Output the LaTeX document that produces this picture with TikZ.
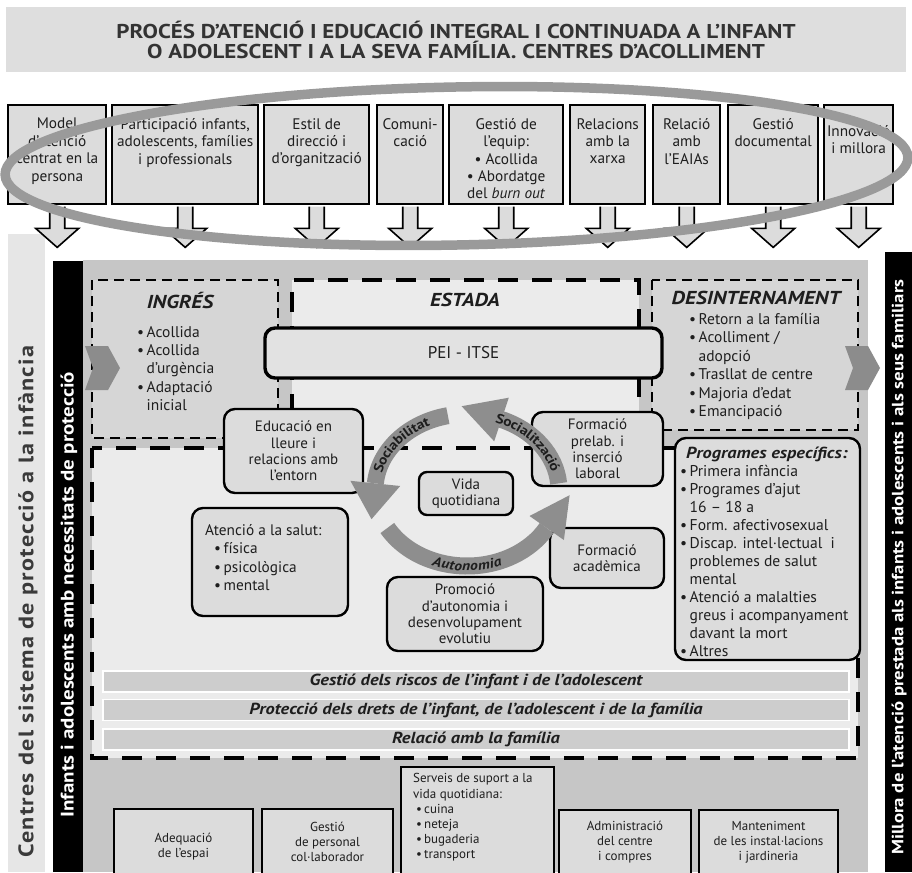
\documentclass[tikz,border=0pt]{standalone}
\usepackage{fontspec}
\setmainfont{PT Sans}
\newfontfamily\widefont{PT Sans}[FakeStretch=1.15]
\newfontfamily\spacedfont{PT Sans}[FakeStretch=1.15, LetterSpace=6]
\usetikzlibrary{decorations.text}

\definecolor{titlefill}{HTML}{DEDEDE}
\definecolor{boxfill}{HTML}{DCDCDC}
\definecolor{panelfill}{HTML}{C6C6C6}
\definecolor{stripfill}{HTML}{E6E6E6}
\definecolor{phasefill}{HTML}{D6D6D6}
\definecolor{stayfill}{HTML}{EBEBEB}
\definecolor{peifill}{HTML}{E2E2E2}
\definecolor{ringgray}{HTML}{9A9A9A}
\definecolor{cyclegray}{HTML}{8E8E8E}
\definecolor{chevrongray}{HTML}{8C8C8C}
\definecolor{ink}{HTML}{1E1E1E}
\definecolor{titleink}{HTML}{333333}
\definecolor{sideink}{HTML}{3A3A3A}
\definecolor{barfill}{HTML}{CDCDCD}

\newcommand\fs[2]{\fontsize{#1}{#2}\selectfont}
\newcommand\bitem{\makebox[9.5pt][l]{•}}
\newcommand\bcont{\hspace*{9.5pt}}

\tikzset{
  topbox/.style={draw=black, line width=2.4pt, fill=boxfill, inner sep=0pt, anchor=north west},
  toptext/.style={font=\fs{15.3}{17.4}, align=center, inner sep=0pt, text=ink, anchor=north},
  arrowline/.style={draw=black, line width=1.6pt, line join=miter},
  pics/downarrow/.style={code={
    \fill[boxfill] (-7.5,1.2) -- (-7.5,23) -- (-21.5,23) -- (0,42) -- (21.5,23) -- (7.5,23) -- (7.5,1.2) -- cycle;
    \draw[arrowline] (-7.5,1.2) -- (-7.5,23) -- (-21.5,23) -- (0,42) -- (21.5,23) -- (7.5,23) -- (7.5,1.2);
  }},
  phasebox/.style={draw=black, line width=2.6pt, dash pattern=on 10pt off 6pt, fill=phasefill},
  staydash/.style={draw=black, line width=4.5pt, dash pattern=on 20pt off 14pt},
  phasetitle/.style={font=\widefont\fs{18.7}{20}\bfseries\itshape, text=ink, inner sep=0pt},
  phaselist/.style={font=\fs{15.5}{18.4}, align=left, text=ink, inner sep=0pt, anchor=west},
  roundbox/.style={draw=black, line width=2.4pt, rounded corners=11pt, fill=boxfill, inner sep=0pt},
  boxtext/.style={font=\fs{15}{16.4}, align=center, text=ink, inner sep=0pt},
  bar/.style={draw=white, line width=1.6pt, fill=barfill, minimum width=746pt, minimum height=21pt, inner sep=0pt, font=\widefont\fs{16}{18}\bfseries\itshape, text=ink},
  servicebox/.style={draw=black, line width=1.4pt, fill=boxfill},
  servicetext/.style={font=\fs{13}{15.2}, align=center, text=ink, inner sep=0pt},
  sidetext/.style={rotate=90, inner sep=0pt, anchor=west},
  chevron/.style={fill=chevrongray},
  cycleband/.style={draw=cyclegray, line width=17pt},
  cyclehead/.style={fill=cyclegray},
}

\begin{document}
\begin{tikzpicture}[x=1pt, y=-1pt]
\useasboundingbox (0,0) rectangle (912,872);
\fill[white] (0,0) rectangle (912,872);

% ---------- title band ----------
\fill[titlefill] (6,7) rectangle (906,72);
\node[font=\widefont\fs{20}{20.5}\bfseries, text=titleink, align=center, inner sep=0pt] (title) at (456,40)
  {PROCÉS D’ATENCIÓ I EDUCACIÓ INTEGRAL I CONTINUADA A L’INFANT\\O ADOLESCENT I A LA SEVA FAMÍLIA. CENTRES D’ACOLLIMENT};

% ---------- side strips and main panel ----------
\fill[stripfill] (8,234) rectangle (45,872);
\node[sidetext, font=\spacedfont\fs{21}{23}\bfseries, text=sideink] (system) at (28,858) {Centres del sistema de protecció a la infància};
\fill[black] (53,261) rectangle (83,872);
\node[sidetext, font=\widefont\fs{18.2}{20}\bfseries, text=white] (children) at (69,818) {Infants i adolescents amb necessitats de protecció};
\fill[panelfill] (83,260) rectangle (868,872);
\fill[black] (885,252) rectangle (912,872);
\node[sidetext, font=\widefont\fs{16.3}{18}\bfseries, text=white] (improve) at (899,855) {Millora de l’atenció prestada als infants i adolescents i als seus familiars};

% ---------- phases ----------
\draw[phasebox] (92,280) rectangle (278,438);
\draw[phasebox] (652,280) rectangle (858,430);
\fill[stayfill] (292,280) rectangle (639,448);
\fill[stayfill] (92,448) rectangle (858,758);
\draw[staydash] (292,448) -- (292,280) -- (639,280) -- (639,448);
\draw[staydash] (92,448) rectangle (858,758);

\node[phasetitle] (ingres) at (180,300) {INGRÉS};
\node[phasetitle] (estada) at (465,300) {ESTADA};
\node[phasetitle] (desint) at (756,298) {DESINTERNAMENT};

\node[phaselist] (ingreslist) at (137,368.5)
  {\bitem Acollida\\\bitem Acollida\\\bcont d’urgència\\\bitem Adaptació\\\bcont inicial};
\node[phaselist] (desintlist) at (689,366.5)
  {\bitem Retorn a la família\\\bitem Acolliment /\\\bcont adopció\\\bitem Trasllat de centre\\\bitem Majoria d’edat\\\bitem Emancipació};

% ---------- cross-cutting bars ----------
\node[bar] (risks) at (476,681.5) {Gestió dels riscos de l’infant i de l’adolescent};
\node[bar] (rights) at (476,710) {Protecció dels drets de l’infant, de l’adolescent i de la família};
\node[bar] (family) at (476,739.5) {Relació amb la família};

% ---------- stay boxes ----------
\node[roundbox, line width=3.4pt, rounded corners=10pt, fill=peifill, minimum width=397pt, minimum height=50pt, font=\fs{17}{18}, text=ink] (pei) at (463.5,353) {PEI - ITSE};
\node[roundbox, minimum width=139pt, minimum height=84pt] (leisure) at (293.5,451) {};
\node[boxtext] at (leisure.center) {Educació en\\lleure i\\relacions amb\\l’entorn};
\node[roundbox, minimum width=131pt, minimum height=74pt] (prelab) at (597.5,449) {};
\node[boxtext] at (prelab.center) {Formació\\prelab. i\\inserció\\laboral};
\node[roundbox, rounded corners=8pt, minimum width=94pt, minimum height=43pt] (daily) at (466,493.5) {};
\node[boxtext] at (daily.center) {Vida\\quotidiana};
\node[roundbox, minimum width=156pt, minimum height=108pt] (health) at (270,562) {};
\node[phaselist, font=\fs{15.3}{18.4}] at (205,557.5) {Atenció a la salut:\\\hspace*{9pt}\bitem física\\\hspace*{9pt}\bitem psicològica\\\hspace*{9pt}\bitem mental};
\node[roundbox, minimum width=156pt, minimum height=74pt] (promo) at (465,614) {};
\node[boxtext] at (promo.center) {Promoció\\d’autonomia i\\desenvolupament\\evolutiu};
\node[roundbox, minimum width=114pt, minimum height=60pt] (acad) at (607,558) {};
\node[boxtext] at (acad.center) {Formació\\acadèmica};
\node[roundbox, minimum width=185pt, minimum height=222pt] (progs) at (767.5,549) {};
\node[phaselist, font=\fs{15.6}{18}] at (680,552)
  {\hspace*{6pt}{\widefont\fs{16}{18}\bfseries\itshape Programes específics:}\\
   \bitem Primera infància\\
   \bitem Programes d’ajut\\
   \bcont 16 – 18 a\\
   \bitem Form. afectivosexual\\
   \bitem Discap. intel·lectual\ \ i\\
   \bcont problemes de salut\\
   \bcont mental\\
   \bitem Atenció a malalties\\
   \bcont greus i acompanyament\\
   \bcont davant la mort\\
   \bitem Altres};

% ---------- cycle of the daily life ----------
\begin{scope}[shift={(467,490)}]
  \draw[cycleband] (-102:92 and 76) arc[start angle=-102, end angle=-175, x radius=92, y radius=76];
  \fill[cyclehead] (-66.8,-4.0) -- (-116.6,-9.2) -- (-95.5,29.2) -- cycle;
  \draw[cycleband] (-5:92 and 76) arc[start angle=-5, end angle=-68, x radius=92, y radius=76];
  \fill[cyclehead] (41.8,-92.3) -- (27.2,-48.7) -- (-5.4,-83.8) -- cycle;
  \draw[cycleband] (150:92 and 76) arc[start angle=150, end angle=30, x radius=92, y radius=76];
  \fill[cyclehead] (96.9,50.0) -- (62.5,26.0) -- (102.6,5.2) -- cycle;
  \path[decorate, decoration={text along path, text={|\widefont\fs{13.5}{13.5}\bfseries|Sociabilitat}, text align=center, text color=ink, raise=-4.7pt}]
    (-172:92 and 76) arc[start angle=-172, end angle=-110, x radius=92, y radius=76];
  \path[decorate, decoration={text along path, text={|\widefont\fs{13.5}{13.5}\bfseries|Socialització}, text align=center, text color=ink, raise=-4.7pt}]
    (-82:92 and 76) arc[start angle=-82, end angle=-2, x radius=92, y radius=76];
  \path[decorate, decoration={text along path, text={|\widefont\fs{13.5}{13.5}\bfseries\itshape|Autonomia}, text align=center, text color=ink, raise=-4.7pt}]
    (120:92 and 76) arc[start angle=120, end angle=60, x radius=92, y radius=76];
\end{scope}

% ---------- entry and exit chevrons ----------
\fill[chevron] (85,346) -- (108,346) -- (120,368) -- (108,390) -- (85,390) -- (93,368) -- cycle;
\fill[chevron] (845,346) -- (868,346) -- (880,368) -- (868,390) -- (845,390) -- (853,368) -- cycle;

% ---------- support services ----------
\draw[servicebox] (114,874) |- (253,809) -- (253,874);
\node[servicetext] (space) at (183.5,846.5) {Adequació\\de l’espai};
\draw[servicebox] (262,874) |- (393,809) -- (393,874);
\node[servicetext] (staff) at (327.5,842) {Gestió\\de personal\\col·laborador};
\draw[servicebox] (401,874) |- (554,767) -- (554,874);
\node[servicetext, align=left, anchor=west] (support) at (413,817.5)
  {Serveis de suport a la\\vida quotidiana:\\\hspace*{3pt}\makebox[8pt][l]{•}cuina\\\hspace*{3pt}\makebox[8pt][l]{•}neteja\\\hspace*{3pt}\makebox[8pt][l]{•}bugaderia\\\hspace*{3pt}\makebox[8pt][l]{•}transport};
\draw[servicebox] (559,874) |- (691,810) -- (691,874);
\node[servicetext] (admin) at (625,842) {Administració\\del centre\\i compres};
\draw[servicebox] (699,874) |- (838,810) -- (838,874);
\node[servicetext] (maint) at (768.5,842) {Manteniment\\de les instal·lacions\\i jardineria};

% ---------- quality areas ----------
\foreach \n/\x/\w in {1/7/98, 2/111/146, 3/263/105, 4/376/66, 5/448/114, 6/569/75, 7/652/67, 8/727/90, 9/823/69}
  \node[topbox, minimum width=\w pt, minimum height=99pt] (m\n) at (\x,104) {};
\foreach \n in {1,...,9}
  \pic at (m\n.south) {downarrow};
\node[toptext] (t1) at ([yshift=-14pt]m1.north) {Model\\d’atenció\\centrat en la\\persona};
\node[toptext] (t2) at ([yshift=-14pt]m2.north) {Participació infants,\\adolescents, famílies\\i professionals};
\node[toptext] (t3) at ([yshift=-14pt]m3.north) {Estil de\\direcció i\\d’organització};
\node[toptext] (t4) at ([yshift=-14pt]m4.north) {Comuni-\\cació};
\node[toptext] (t5) at ([yshift=-14pt]m5.north) {Gestió de\\l’equip:\\• Acollida\\• Abordatge\\del \textit{burn out}};
\node[toptext] (t6) at ([yshift=-14pt]m6.north) {Relacions\\amb la\\xarxa};
\node[toptext] (t7) at ([yshift=-14pt]m7.north) {Relació\\amb\\l’EAIAs};
\node[toptext] (t8) at ([yshift=-14pt]m8.north) {Gestió\\documental};
\node[toptext] (t9) at ([yshift=-21pt]m9.north) {Innovació\\i millora};

% ---------- ring enclosing the quality areas ----------
\draw[ringgray, line width=9.5pt, rotate around={1.1:(456.5,166)}] (456.5,166) ellipse [x radius=451.5, y radius=79];
\end{tikzpicture}
\end{document}
